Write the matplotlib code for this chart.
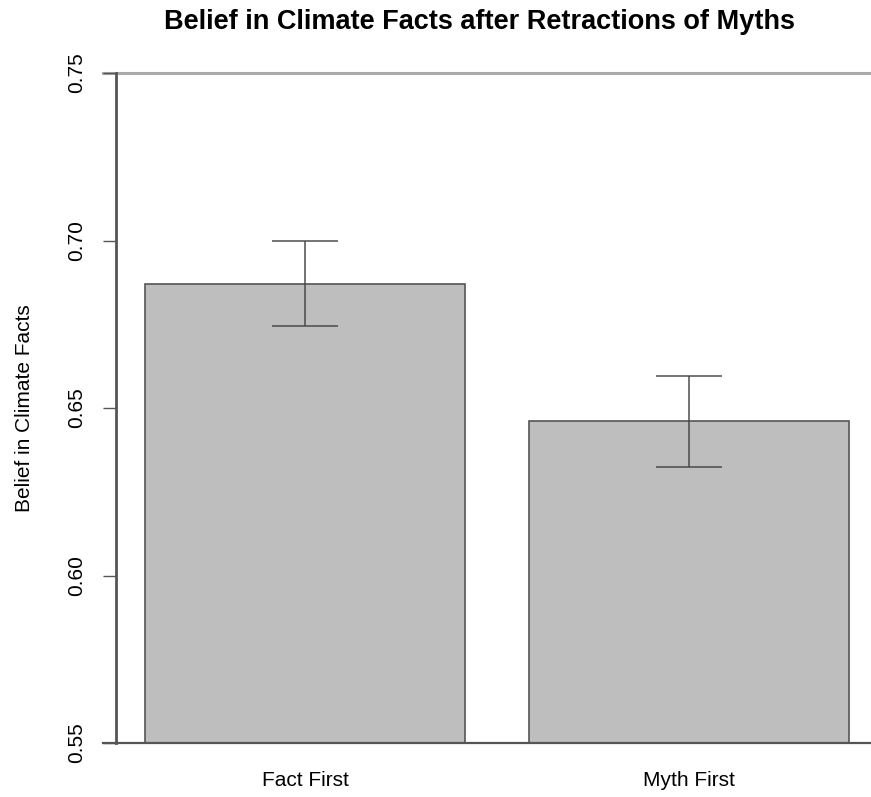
import numpy as np
import matplotlib.pyplot as plt

plt.rcParams['font.family'] = ['Liberation Sans', 'DejaVu Sans']

# Data
conditions = ['Fact First', 'Myth First']
means = [0.687, 0.646]
err_low = [0.0125, 0.0135]
err_high = [0.0128, 0.0136]
yticks = [0.55, 0.60, 0.65, 0.70, 0.75]

W, H = 871, 797
fig = plt.figure(figsize=(W / 100, H / 100), dpi=100)
ax = fig.add_axes([116 / W, 54 / H, (W - 116) / W, 670 / H])

x = np.array([0.7, 1.9])
ax.bar(x, np.array(means) - 0.55, bottom=0.55, width=1.0,
       color='#bebebe', edgecolor='#555555', linewidth=1.2, zorder=2)
ax.errorbar(x, means, yerr=[err_low, err_high], fmt='none',
            ecolor='#444444', elinewidth=1.3, capsize=24, capthick=1.3,
            alpha=0.8, zorder=3)

ax.set_xlim((116 - 81) / 320, (W - 81) / 320)
ax.set_ylim(0.55, 0.75)

for s in ax.spines.values():
    s.set_visible(False)
ax.spines['left'].set_visible(True)
ax.spines['left'].set_color('#555555')
ax.spines['left'].set_linewidth(2)

xmin = (103 - 116) / (W - 116)
ax.axhline(0.75, xmin=xmin, xmax=1, color='#aaaaaa', lw=2.2, clip_on=False, zorder=1)
ax.axhline(0.55, xmin=xmin, xmax=1, color='#555555', lw=1.6, clip_on=False, zorder=4)

ax.set_yticks(yticks)
ax.set_yticklabels([f'{v:.2f}' for v in yticks], rotation=90, va='center')
ax.tick_params(axis='y', length=9.5, width=1, color='#555555', labelsize=15, pad=12)
ax.set_xticks(x)
ax.set_xticklabels(conditions)
ax.tick_params(axis='x', length=0, labelsize=15, pad=20)

fig.text(25 / W, 1 - 408 / H, 'Belief in Climate Facts', rotation=90,
         ha='center', va='center', fontsize=15)
fig.text(480 / W, 1 - 22 / H, 'Belief in Climate Facts after Retractions of Myths',
         ha='center', va='center', fontsize=19.5, fontweight='bold')

fig.savefig('out.png', dpi=100, facecolor='white')
